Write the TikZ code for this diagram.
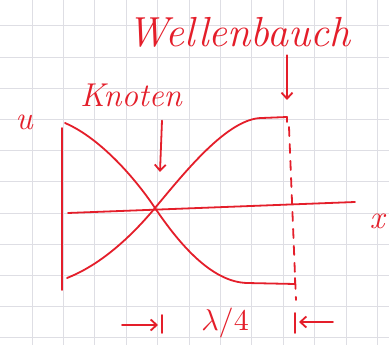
\documentclass[tikz,border=0pt]{standalone}
\usepackage{graphicx}
\usepackage{tikz}
\usetikzlibrary{arrows.meta,positioning}
\definecolor{penred}{RGB}{228,30,42}
\definecolor{gridgray}{RGB}{222,222,228}
\tikzset{
  pen line/.style={penred,line width=1.8pt,line cap=round,line join=round},
  pen arrow/.style={pen line,-{Straight Barb[length=6pt,width=11pt]}},
  grid line/.style={gridgray,line width=0.9pt},
  sketch label/.style={text=penred,inner sep=0pt},
  big hand/.style={sketch label,font=\itshape\fontsize{42}{42}\selectfont},
  small hand/.style={sketch label,font=\itshape\fontsize{33}{33}\selectfont},
}

\begin{document}
\begin{tikzpicture}[x=1pt,y=-1pt]
  \useasboundingbox[fill=white] (0,0) rectangle (389,345);
  % squared paper
  \foreach \k in {1,...,12}
    \draw[grid line] (0.6+31.4*\k,0) -- (0.6+31.4*\k,345);
  \foreach \k in {0,...,10}
    \draw[grid line] (0,25.8+31.2*\k) -- (389,25.8+31.2*\k);

  % labels
  \node[big hand] (wellenbauch) at (239,32) {Wellenbauch};
  \node[small hand] (knoten) at (131,95) {Knoten};
  \node[small hand] (ulabel) at (24,122) {u};
  \node[small hand] (xlabel) at (377,221) {x};
  \node[sketch label] (quarter) at (225,323) {\scalebox{3}{$\lambda/4$}};

  % axes
  \coordinate (utop) at (62,128);
  \coordinate (ubottom) at (62,290);
  \coordinate (xstart) at (68,213);
  \coordinate (xend) at (355,202);
  \draw[pen line] (utop) -- (ubottom);
  \draw[pen line] (xstart) -- (xend);

  % the two envelopes cross in the node
  \coordinate (knot) at (155,208);
  \coordinate (downstart) at (65,123);
  \coordinate (downend) at (295,284);
  \coordinate (upstart) at (67,278);
  \coordinate (upend) at (287,117);
  \draw[pen line] (downstart) .. controls (100,138) and (135,178) .. (knot)
    .. controls (180,245) and (212,282) .. (247,283) -- (downend)
    -- ++(0,-6);
  \draw[pen line] (upstart) .. controls (100,265) and (130,238) .. (knot)
    .. controls (185,172) and (228,118) .. (262,118) -- (upend) -- ++(0,5);

  % antinode marker
  \coordinate (dashtop) at (289,127);
  \coordinate (dashbottom) at (296,300);
  \draw[pen line,dash pattern=on 9pt off 8pt] (dashtop) -- (dashbottom);

  % pointers
  \coordinate (knottip) at (160,172);
  \coordinate (bauchtip) at (287,100);
  \draw[pen arrow] ([xshift=31pt,yshift=-14pt]knoten.south) -- (knottip);
  \draw[pen arrow] ([xshift=48pt,yshift=-8pt]wellenbauch.south) -- (bauchtip);

  % quarter wavelength
  \coordinate (leftbartop) at (162,315);
  \coordinate (leftbarbottom) at (162,333);
  \coordinate (rightbartop) at (295,313);
  \coordinate (rightbarbottom) at (295,333);
  \coordinate (leftfeed) at (122,325);
  \coordinate (rightfeed) at (333,322);
  \draw[pen line] (leftbartop) -- (leftbarbottom);
  \draw[pen line] (rightbartop) -- (rightbarbottom);
  \draw[pen arrow] (leftfeed) -- ([xshift=-4pt]leftbartop |- leftfeed);
  \draw[pen arrow] (rightfeed) -- ([xshift=4pt]rightbartop |- rightfeed);
\end{tikzpicture}
\end{document}
